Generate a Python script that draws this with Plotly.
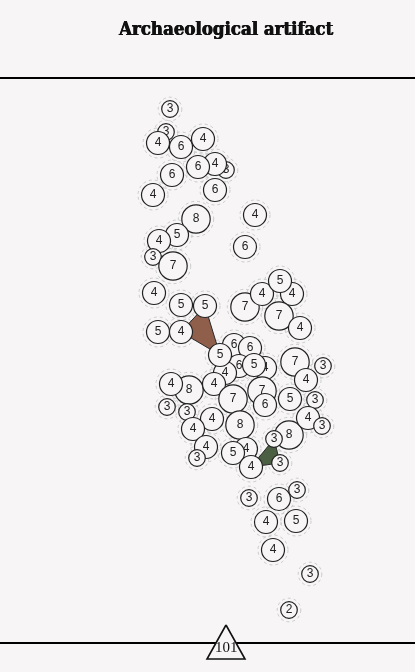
import plotly.graph_objects as go

TITLE = "Archaeological artifact"
PAGE_NUMBER = "101"
BACKGROUND = "#f7f5f6"

node_x = [170, 166, 158, 181, 203, 226, 215, 198, 172, 153, 215, 196, 177, 159, 153, 173, 255, 245,
          154, 181, 205, 158, 181, 245, 262, 292, 280, 279, 300,
          265, 234, 250, 239, 225, 254, 220, 262, 295, 323, 306, 189, 171, 214, 233, 265, 290, 315,
          167, 187, 212, 193, 240, 289, 308, 322, 274, 246, 233, 206, 197, 251, 280,
          249, 279, 297, 266, 296, 273, 310, 289]
node_y = [109, 132, 143, 147, 139, 170, 164, 167, 175, 195, 190, 219, 235, 241, 257, 266, 215, 247,
          293, 305, 306, 332, 332, 307, 294, 294, 281, 316, 328,
          368, 345, 348, 366, 373, 365, 355, 391, 362, 366, 380, 390, 384, 384, 399, 405, 399, 400,
          407, 412, 419, 429, 425, 435, 418, 426, 439, 449, 453, 447, 458, 467, 463,
          498, 499, 490, 522, 521, 550, 574, 610]
node_value = [3, 3, 4, 6, 4, 3, 4, 6, 6, 4, 6, 8, 5, 4, 3, 7, 4, 6,
              4, 5, 5, 5, 4, 7, 4, 4, 5, 7, 4,
              4, 6, 6, 6, 4, 5, 5, 7, 7, 3, 4, 8, 4, 4, 7, 6, 5, 3,
              3, 3, 4, 4, 8, 8, 4, 3, 3, 4, 5, 4, 3, 4, 3,
              3, 6, 3, 4, 5, 4, 3, 2]
brown_nodes = [22, 20, 35]
green_nodes = [60, 55, 61]
RADIUS = {2: 8.3, 3: 8.3, 4: 11.5, 5: 11.5, 6: 11.5, 7: 14.2, 8: 14.2}

fig = go.Figure()

for nodes, color in ((brown_nodes, "#8f5f4c"), (green_nodes, "#4b5f42")):
    ring = nodes + nodes[:1]
    fig.add_trace(go.Scatter(
        x=[node_x[i] for i in ring], y=[node_y[i] for i in ring],
        mode="lines", fill="toself", fillcolor=color,
        line=dict(color="#2a2a2a", width=1), hoverinfo="skip", showlegend=False))

shapes = []
for x, y, v in zip(node_x, node_y, node_value):
    r = RADIUS[v] + 3.5
    shapes.append(dict(type="circle", layer="below", x0=x - r, x1=x + r, y0=y - r, y1=y + r,
                       line=dict(color="#c6c6c6", width=0.9, dash="dot"), fillcolor="rgba(0,0,0,0)"))
    fig.add_trace(go.Scatter(
        x=[x], y=[y], mode="markers+text", text=[str(v)], textposition="middle center",
        textfont=dict(family="Liberation Sans", size=12, color="#222222"),
        marker=dict(size=2 * RADIUS[v], color=BACKGROUND, line=dict(color="#222222", width=1.2)),
        hoverinfo="skip", showlegend=False))

for y in (78, 643):
    shapes.append(dict(type="line", layer="below", xref="paper", x0=0, x1=1, y0=y, y1=y,
                       line=dict(color="#000000", width=2)))

fig.add_trace(go.Scatter(
    x=[226, 245, 207, 226], y=[625, 659, 659, 625], mode="lines", fill="toself",
    fillcolor=BACKGROUND, line=dict(color="#111111", width=1.6), hoverinfo="skip", showlegend=False))

fig.update_layout(
    width=415, height=672, margin=dict(l=0, r=0, t=0, b=0),
    paper_bgcolor=BACKGROUND, plot_bgcolor=BACKGROUND, shapes=shapes,
    xaxis=dict(range=[0, 415], visible=False, fixedrange=True),
    yaxis=dict(range=[672, 0], visible=False, fixedrange=True),
    annotations=[
        dict(x=225, y=28, xref="x", yref="y", text="<b>" + TITLE + "</b>", showarrow=False,
             font=dict(family="DejaVu Serif Condensed, DejaVu Serif", size=18.5, color="#111111",
                       shadow="0.5px 0 0 #111111, -0.3px 0 0 #111111")),
        dict(x=226.5, y=647, xref="x", yref="y", text=PAGE_NUMBER, showarrow=False,
             font=dict(family="Liberation Serif", size=15, color="#111111")),
    ],
)

fig.write_html("out.html", config=dict(displayModeBar=False),
               post_script="document.body.style.margin='0';document.body.style.overflow='hidden';"
                           "document.body.style.background='" + BACKGROUND + "';"
                           "var s=document.createElement('style');"
                           "s.textContent='.textpoint text,.annotation-text{filter:grayscale(1);}';"
                           "document.head.appendChild(s);")
